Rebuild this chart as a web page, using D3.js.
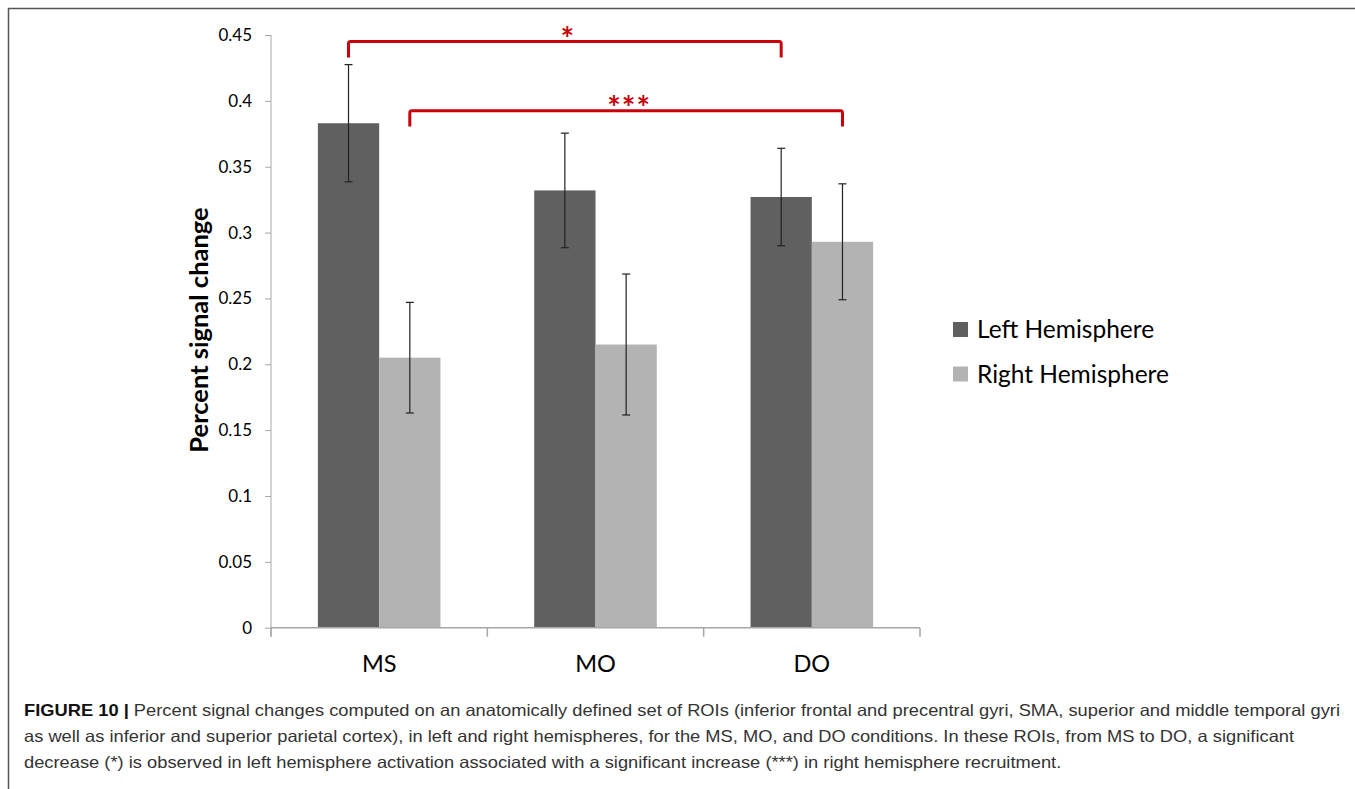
<!DOCTYPE html>
<html>
<head>
<meta charset="utf-8">
<script src="https://cdn.jsdelivr.net/npm/d3@7"></script>
<style>
  body { margin: 0; background: #fff; }
  svg { display: block; }
</style>
</head>
<body>
<div class="chart"></div>
<script>
// values
const categories = ["MS", "MO", "DO"];
const series = ["Left Hemisphere", "Right Hemisphere"];
const leftValues = [0.383, 0.332, 0.327];
const rightValues = [0.205, 0.215, 0.293];
const leftErrors = [0.0445, 0.0435, 0.037];
const rightErrors = [0.042, 0.0535, 0.044];
const yTicks = [0, 0.05, 0.1, 0.15, 0.2, 0.25, 0.3, 0.35, 0.4, 0.45];
const tickLabels = ["0", "0.05", "0.1", "0.15", "0.2", "0.25", "0.3", "0.35", "0.4", "0.45"];
const brackets = [
  {from: ["MS", "Left Hemisphere"], to: ["DO", "Left Hemisphere"], top: 0.445, end: 0.433, label: "*"},
  {from: ["MS", "Right Hemisphere"], to: ["DO", "Right Hemisphere"], top: 0.3925, end: 0.3805, label: "***"}
];
const captionLines = [
  ["FIGURE 10 | ", "Percent signal changes computed on an anatomically defined set of ROIs (inferior frontal and precentral gyri, SMA, superior and middle temporal gyri"],
  ["", "as well as inferior and superior parietal cortex), in left and right hemispheres, for the MS, MO, and DO conditions. In these ROIs, from MS to DO, a significant"],
  ["", "decrease (*) is observed in left hemisphere activation associated with a significant increase (***) in right hemisphere recruitment."]
];

const width = 1355, height = 789;
const plot = {left: 271, right: 920, top: 35, bottom: 627.7};
const colors = {"Left Hemisphere": "#606060", "Right Hemisphere": "#b3b3b3"};
const chartFont = "Lato, 'Open Sans', sans-serif";

const rows = [];
categories.forEach((c, i) => {
  rows.push({cat: c, s: series[0], v: leftValues[i], e: leftErrors[i]});
  rows.push({cat: c, s: series[1], v: rightValues[i], e: rightErrors[i]});
});

const svg = d3.select(".chart").append("svg")
  .attr("width", width).attr("height", height);

// figure frame
svg.append("path")
  .attr("d", `M8.5,${height} V8.5 H${width}`)
  .attr("fill", "none").attr("stroke", "#555").attr("stroke-width", 1.5);

const xScale = d3.scaleBand().domain(categories).range([plot.left, plot.right]);
const barW = 61.3;
const subScale = d3.scaleBand().domain(series)
  .range([xScale.bandwidth() / 2 - barW, xScale.bandwidth() / 2 + barW]);
const yScale = d3.scaleLinear().domain([0, 0.45]).range([plot.bottom, plot.top]);

const xOf = (c, s) => xScale(c) + subScale(s) + subScale.bandwidth() / 2;

// y axis
const yAxis = d3.axisLeft(yScale).tickValues(yTicks).tickSize(6)
  .tickFormat((d, i) => tickLabels[i]);
const yg = svg.append("g").attr("transform", `translate(${plot.left},0)`).call(yAxis);
yg.select(".domain").attr("stroke", "#a6a6a6").attr("d", `M0,${plot.top}V${plot.bottom + 9}`);
yg.selectAll(".tick line").attr("stroke", "#a6a6a6");
yg.selectAll(".tick text")
  .attr("x", -19)
  .attr("font-family", chartFont).attr("font-size", 17).attr("fill", "#000");

// bars
svg.selectAll("rect.bar").data(rows).enter().append("rect")
  .attr("class", "bar")
  .attr("x", d => xScale(d.cat) + subScale(d.s))
  .attr("width", subScale.bandwidth())
  .attr("y", d => yScale(d.v))
  .attr("height", d => yScale(0) - yScale(d.v))
  .attr("fill", d => colors[d.s]);

// x axis
const xg = svg.append("g");
xg.append("line")
  .attr("x1", plot.left).attr("x2", plot.right)
  .attr("y1", yScale(0)).attr("y2", yScale(0))
  .attr("stroke", "#a6a6a6").attr("stroke-width", 1.5);
const bounds = categories.map(c => xScale(c)).concat([plot.right]);
xg.selectAll("line.tk").data(bounds).enter().append("line")
  .attr("class", "tk")
  .attr("x1", d => d).attr("x2", d => d)
  .attr("y1", yScale(0)).attr("y2", yScale(0) + 9)
  .attr("stroke", "#a6a6a6").attr("stroke-width", 1.5);
xg.selectAll("text").data(categories).enter().append("text")
  .attr("x", d => xScale(d) + xScale.bandwidth() / 2)
  .attr("y", 672)
  .attr("text-anchor", "middle")
  .attr("font-family", chartFont).attr("font-size", 23.5)
  .text(d => d);

// error bars
const eg = svg.append("g").attr("stroke", "#222").attr("stroke-width", 1.2);
rows.forEach(d => {
  const cx = xOf(d.cat, d.s);
  const y1 = yScale(d.v + d.e), y2 = yScale(d.v - d.e);
  eg.append("line").attr("x1", cx).attr("x2", cx).attr("y1", y1).attr("y2", y2);
  eg.append("line").attr("x1", cx - 4).attr("x2", cx + 4).attr("y1", y1).attr("y2", y1);
  eg.append("line").attr("x1", cx - 4).attr("x2", cx + 4).attr("y1", y2).attr("y2", y2);
});

// significance brackets
brackets.forEach(b => {
  const x1 = xOf(b.from[0], b.from[1]), x2 = xOf(b.to[0], b.to[1]);
  const yt = yScale(b.top), ye = yScale(b.end);
  svg.append("path")
    .attr("d", `M${x1},${ye} V${yt + 2} Q${x1},${yt} ${x1 + 2},${yt} H${x2 - 2} Q${x2},${yt} ${x2},${yt + 2} V${ye}`)
    .attr("fill", "none").attr("stroke", "#c8000a").attr("stroke-width", 3);
  svg.append("text")
    .attr("x", (x1 + x2) / 2 + 3)
    .attr("y", yt + 9)
    .attr("text-anchor", "middle")
    .attr("font-family", chartFont).attr("font-weight", "bold")
    .attr("font-size", 32).attr("letter-spacing", 1)
    .attr("fill", "#c8000a")
    .text(b.label);
});

// y axis title
svg.append("text")
  .attr("transform", `translate(208,330) rotate(-90)`)
  .attr("text-anchor", "middle")
  .attr("font-family", chartFont).attr("font-weight", "bold").attr("font-size", 25.5)
  .text("Percent signal change");

// legend
const legend = svg.append("g").attr("transform", "translate(953,322)");
legend.selectAll("rect").data(series).enter().append("rect")
  .attr("x", 0).attr("y", (d, i) => i * 44.5)
  .attr("width", 15).attr("height", 15)
  .attr("fill", d => colors[d]);
legend.selectAll("text").data(series).enter().append("text")
  .attr("x", 24).attr("y", (d, i) => 15.5 + i * 45.5)
  .attr("font-family", chartFont).attr("font-size", 24.5)
  .text(d => d);

// caption
const cap = svg.append("g");
const capWidth = 1316;
let fit = 1;
captionLines.forEach((line, i) => {
  const t = cap.append("text")
    .attr("x", 24).attr("y", 716 + i * 26)
    .attr("font-family", "'Liberation Sans', Arial, sans-serif").attr("font-size", 16.5)
    .attr("fill", "#333");
  if (line[0]) t.append("tspan").attr("font-weight", "bold").attr("fill", "#111").text(line[0]);
  t.append("tspan").text(line[1]);
  const w = t.node().getComputedTextLength();
  if (i === 0) fit = capWidth / w;
  t.attr("textLength", w * fit).attr("lengthAdjust", "spacingAndGlyphs");
});
</script>
</body>
</html>
